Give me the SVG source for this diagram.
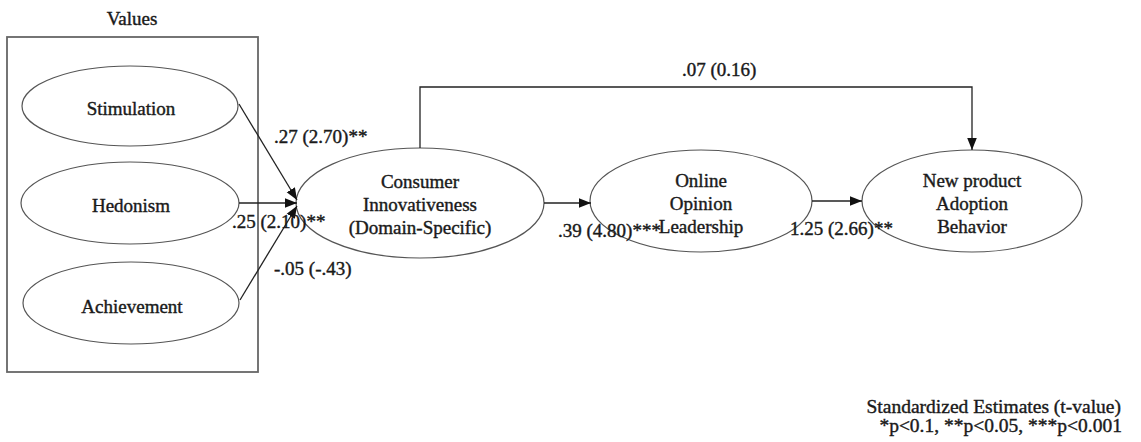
<svg xmlns="http://www.w3.org/2000/svg" width="1141" height="442" viewBox="0 0 1141 442">
<style>
text{font-family:"Liberation Serif","Times New Roman",serif;fill:#1a1a1a;stroke:#1a1a1a;stroke-width:0.4;font-size:19px}
.c{text-anchor:middle}
.e{fill:#fff;stroke:#555;stroke-width:1.2}
.ln{fill:none;stroke:#222;stroke-width:1.3}
.box{fill:none;stroke:#666;stroke-width:1.8}
.lg{font-size:19.5px;text-anchor:end}
</style>
<defs>
<marker id="ah" viewBox="0 0 10 10" refX="10" refY="5" markerWidth="12" markerHeight="12" markerUnits="userSpaceOnUse" orient="auto">
<path d="M0,1 L10,5 L0,9 Z" fill="#111"/>
</marker>
</defs>
<g id="values-group">
<text class="c" x="132" y="25">Values</text>
<rect class="box" x="7" y="37" width="251" height="335"/>
</g>
<g id="stimulation"><ellipse class="e" cx="130" cy="106" rx="108" ry="40"/><text class="c" x="131" y="115">Stimulation</text></g>
<g id="hedonism"><ellipse class="e" cx="130" cy="203" rx="109" ry="41"/><text class="c" x="131" y="212">Hedonism</text></g>
<g id="achievement"><ellipse class="e" cx="131" cy="303" rx="108" ry="41"/><text class="c" x="132" y="313">Achievement</text></g>
<g id="consumer"><ellipse class="e" cx="420" cy="203" rx="124" ry="55"/>
<text class="c" x="420" y="188">Consumer</text><text class="c" x="420" y="211">Innovativeness</text><text class="c" x="420" y="234">(Domain-Specific)</text></g>
<g id="online"><ellipse class="e" cx="701" cy="201" rx="111" ry="51"/>
<text class="c" x="701" y="187">Online</text><text class="c" x="701" y="210">Opinion</text><text class="c" x="701" y="233">Leadership</text></g>
<g id="newproduct"><ellipse class="e" cx="972" cy="201" rx="110" ry="51"/>
<text class="c" x="972" y="187">New product</text><text class="c" x="972" y="210">Adoption</text><text class="c" x="972" y="233">Behavior</text></g>
<g id="connectors">
<line class="ln" x1="239" y1="104" x2="297" y2="200" marker-end="url(#ah)"/>
<line class="ln" x1="239" y1="203" x2="297" y2="203" marker-end="url(#ah)"/>
<line class="ln" x1="240" y1="300" x2="297" y2="206" marker-end="url(#ah)"/>
<line class="ln" x1="544" y1="203" x2="591" y2="203" marker-end="url(#ah)"/>
<line class="ln" x1="812" y1="201" x2="862" y2="201" marker-end="url(#ah)"/>
<polyline class="ln" points="420,148 420,87 972,87 972,150" marker-end="url(#ah)"/>
<text x="274" y="143">.27 (2.70)**</text>
<text x="232" y="228">.25 (2.10)**</text>
<text x="274" y="275">-.05 (-.43)</text>
<text x="558" y="237">.39 (4.80)***</text>
<text x="790" y="235">1.25 (2.66)**</text>
<text x="682" y="76">.07 (0.16)</text>
</g>
<g id="legend">
<text class="lg" x="1121" y="413">Standardized Estimates (t-value)</text>
<text class="lg" x="1122" y="432">*p&lt;0.1, **p&lt;0.05, ***p&lt;0.001</text>
</g>
</svg>
